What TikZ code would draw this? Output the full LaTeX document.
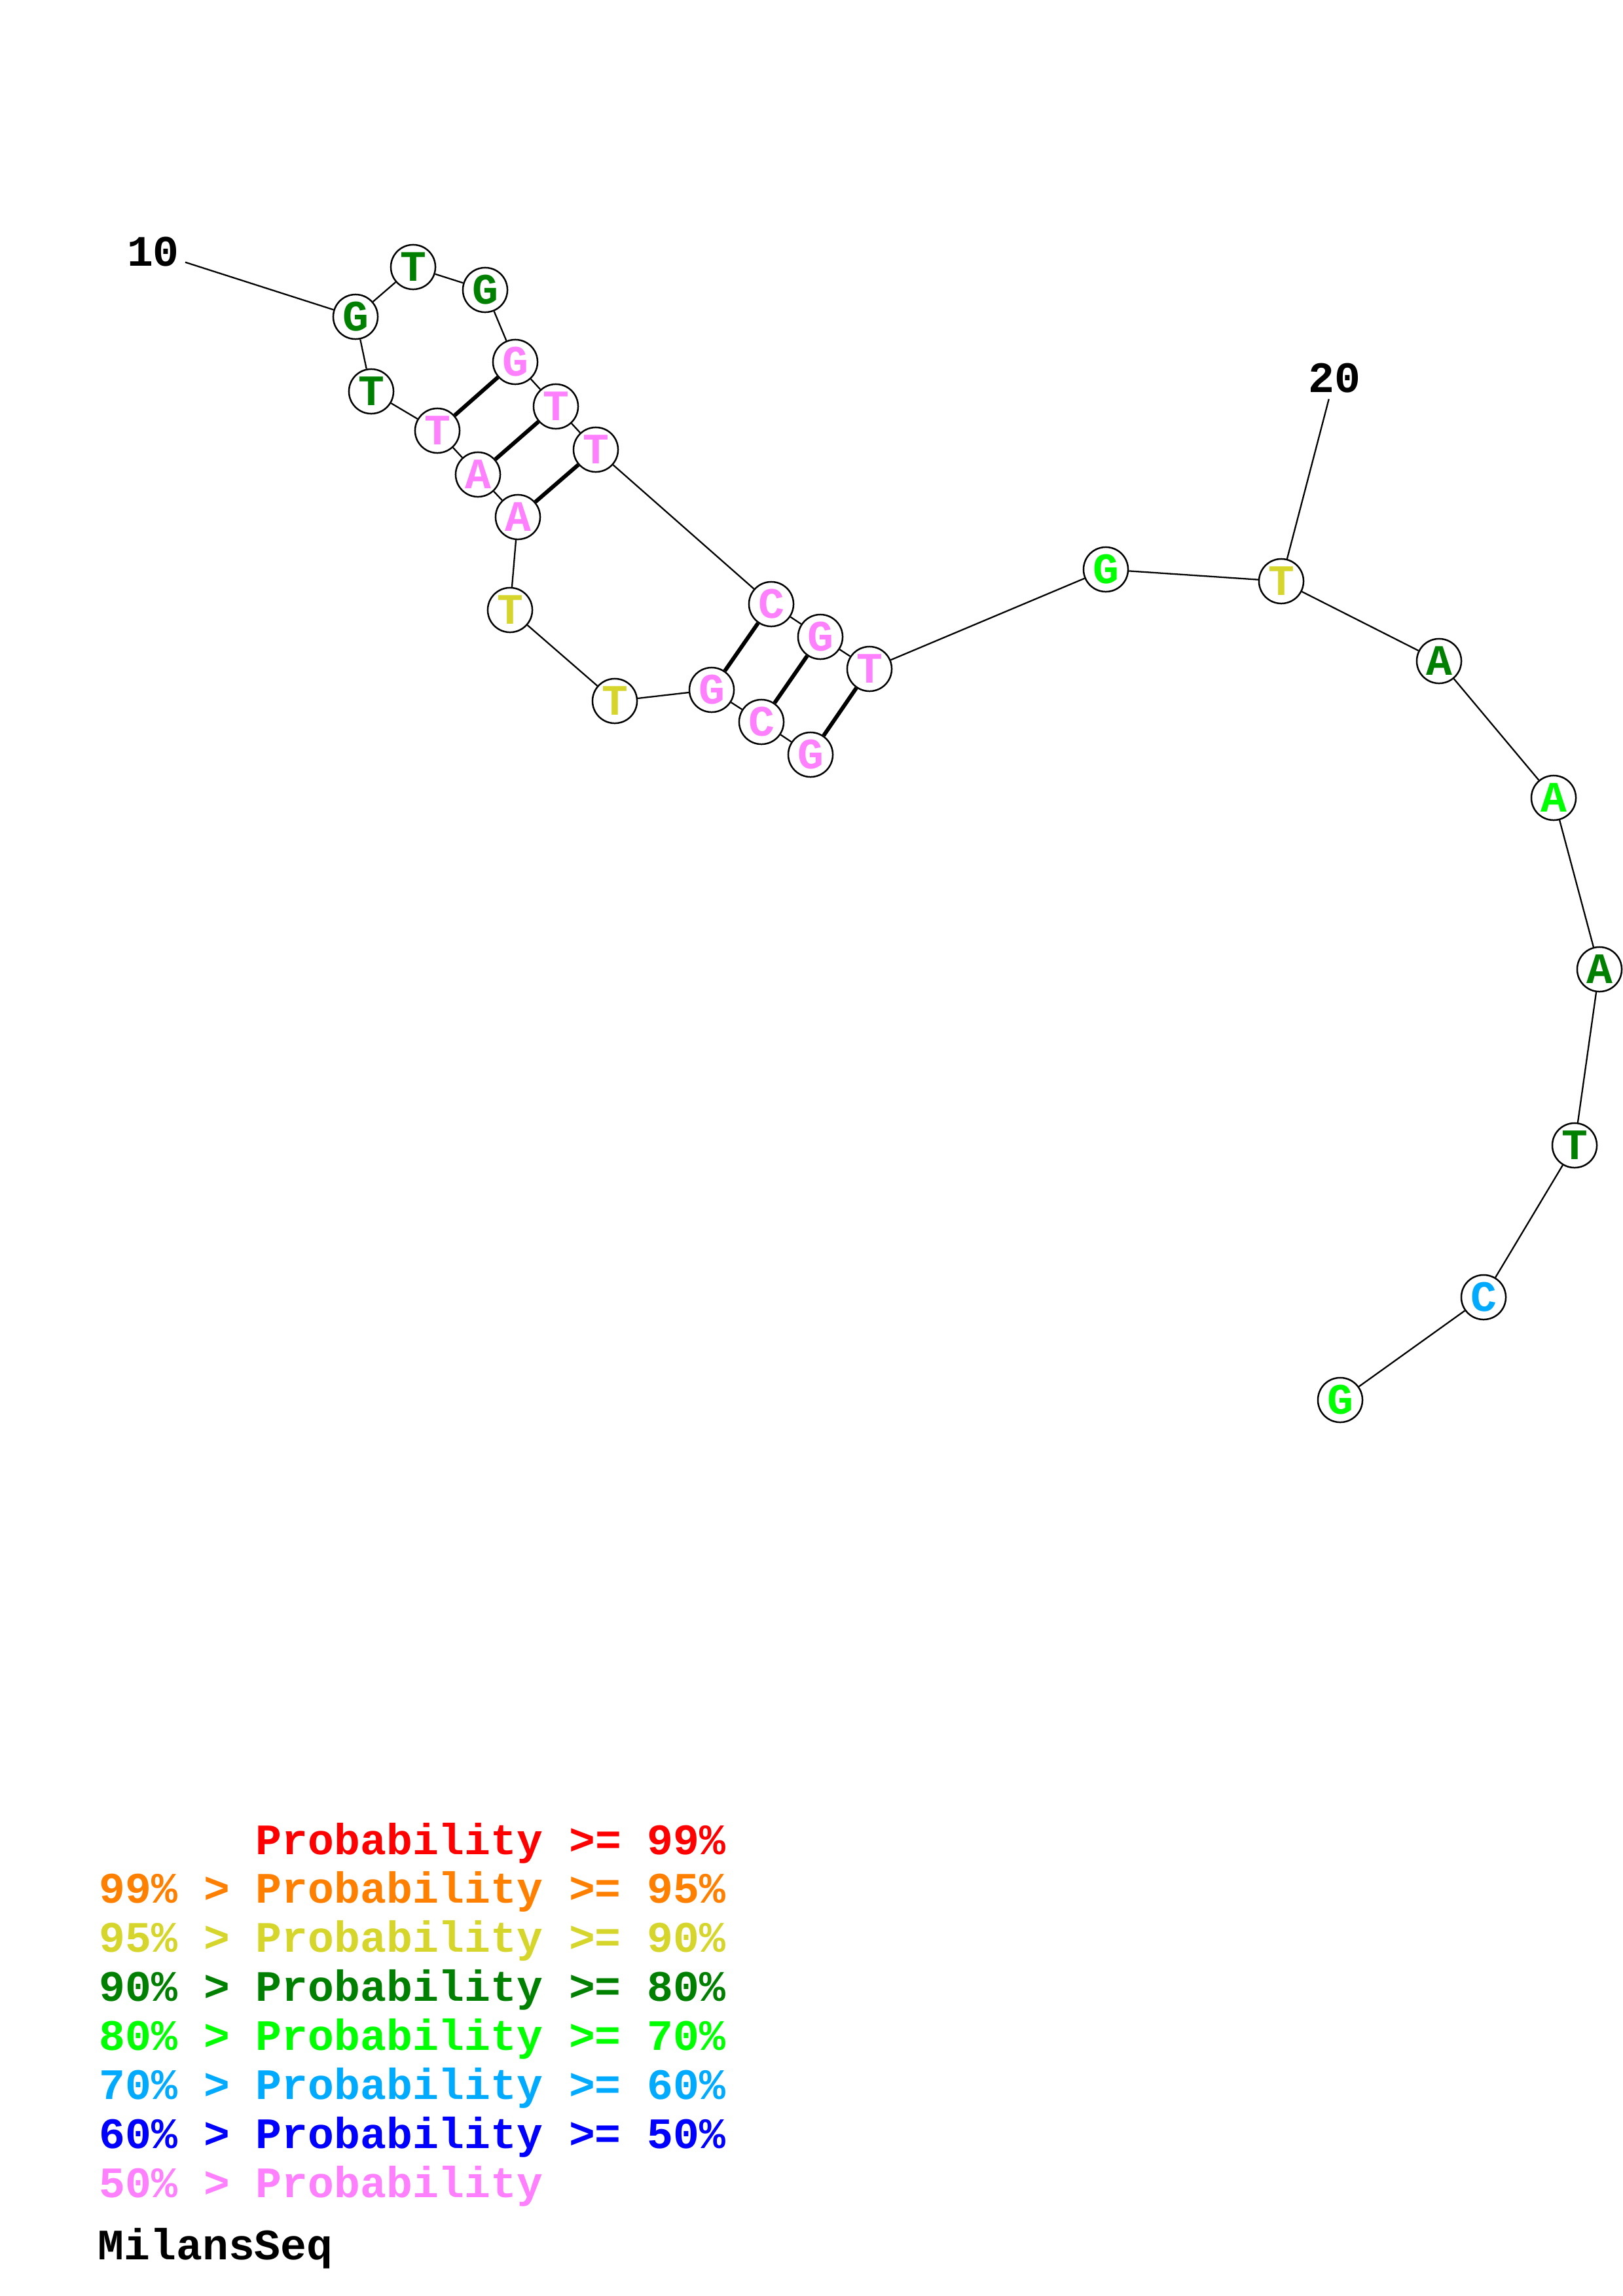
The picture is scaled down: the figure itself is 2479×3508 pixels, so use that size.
\documentclass[tikz,border=0pt]{standalone}
\usepackage{fontspec}
\setmainfont{Liberation Mono}
\definecolor{p99}{RGB}{255,0,0}
\definecolor{p95}{RGB}{255,128,0}
\definecolor{p90}{RGB}{213,213,43}
\definecolor{p80}{RGB}{0,128,0}
\definecolor{p70}{RGB}{0,255,0}
\definecolor{p60}{RGB}{0,170,255}
\definecolor{p50}{RGB}{0,0,255}
\definecolor{plow}{RGB}{255,128,255}
\begin{document}
\begin{tikzpicture}[x=0.2409pt,y=-0.2409pt]
        \tikzstyle{nuc}=[circle,draw=black,line width=0.6pt,fill=white,minimum size=16.4pt,inner sep=0pt,font=\fontsize{16}{18}\selectfont\bfseries]
        \tikzstyle{edge}=[draw,line width=0.55pt]
        \tikzstyle{pair}=[draw,line width=1.45pt]
        \tikzstyle{num}=[inner sep=2pt,font=\fontsize{16}{18}\selectfont\bfseries]
        \tikzstyle{legend}=[inner sep=0pt,anchor=base west,font=\fontsize{16}{18}\selectfont\bfseries]
        \useasboundingbox (0,0) rectangle (2479,3508);
       \begin{scope}
         \node [nuc,text=plow] (n1) at (1238,1153) {G};
         \node [nuc,text=plow] (n2) at (1163,1103) {C};
         \node [nuc,text=plow] (n3) at (1087,1054) {G};
         \node [nuc,text=p90] (n4) at (939,1071) {T};
         \node [nuc,text=p90] (n5) at (779,932) {T};
         \node [nuc,text=plow] (n6) at (791,790) {A};
         \node [nuc,text=plow] (n7) at (730,725) {A};
         \node [nuc,text=plow] (n8) at (668,658) {T};
         \node [nuc,text=p80] (n9) at (567,598) {T};
         \node [nuc,text=p80] (n10) at (543,484) {G};
         \node [nuc,text=p80] (n11) at (631,408) {T};
         \node [nuc,text=p80] (n12) at (741,443) {G};
         \node [nuc,text=plow] (n13) at (787,553) {G};
         \node [nuc,text=plow] (n14) at (849,621) {T};
         \node [nuc,text=plow] (n15) at (910,687) {T};
         \node [nuc,text=plow] (n16) at (1178,923) {C};
         \node [nuc,text=plow] (n17) at (1253,973) {G};
         \node [nuc,text=plow] (n18) at (1328,1022) {T};
         \node [nuc,text=p70] (n19) at (1689,870) {G};
         \node [nuc,text=p90] (n20) at (1957,888) {T};
         \node [nuc,text=p80] (n21) at (2198,1010) {A};
         \node [nuc,text=p70] (n22) at (2373,1219) {A};
         \node [nuc,text=p80] (n23) at (2443,1481) {A};
         \node [nuc,text=p80] (n24) at (2405,1750) {T};
         \node [nuc,text=p60] (n25) at (2266,1982) {C};
         \node [nuc,text=p70] (n26) at (2047,2139) {G};
         \node [num] (l10) at (234,385) {10};
         \node [num] (l20) at (2038,578) {20};
         % backbone
         \path[edge] (n1) edge (n2) (n2) edge (n3) (n3) edge (n4) (n4) edge (n5) (n5) edge (n6);
         \path[edge] (n6) edge (n7) (n7) edge (n8) (n8) edge (n9) (n9) edge (n10) (n10) edge (n11);
         \path[edge] (n11) edge (n12) (n12) edge (n13) (n13) edge (n14) (n14) edge (n15) (n15) edge (n16);
         \path[edge] (n16) edge (n17) (n17) edge (n18) (n18) edge (n19) (n19) edge (n20) (n20) edge (n21);
         \path[edge] (n21) edge (n22) (n22) edge (n23) (n23) edge (n24) (n24) edge (n25) (n25) edge (n26);
         \path[edge] (l10) edge (n10) (l20) edge (n20);
         % base pairs
         \path[pair] (n13) edge (n8) (n14) edge (n7) (n15) edge (n6);
         \path[pair] (n16) edge (n3) (n17) edge (n2) (n18) edge (n1);
        \end{scope}
       \begin{scope}
         \node [legend,text=p99] (k1) at (151,2833) {\phantom{99\% > }Probability >= 99\%};
         \node [legend,text=p95] (k2) at (151,2907) {99\% > Probability >= 95\%};
         \node [legend,text=p90] (k3) at (151,2982) {95\% > Probability >= 90\%};
         \node [legend,text=p80] (k4) at (151,3057) {90\% > Probability >= 80\%};
         \node [legend,text=p70] (k5) at (151,3132) {80\% > Probability >= 70\%};
         \node [legend,text=p60] (k6) at (151,3207) {70\% > Probability >= 60\%};
         \node [legend,text=p50] (k7) at (151,3282) {60\% > Probability >= 50\%};
         \node [legend,text=plow] (k8) at (151,3357) {50\% > Probability};
         \node [legend] (seq) at (149,3452) {MilansSeq};
        \end{scope}
      \end{tikzpicture}
\end{document}
